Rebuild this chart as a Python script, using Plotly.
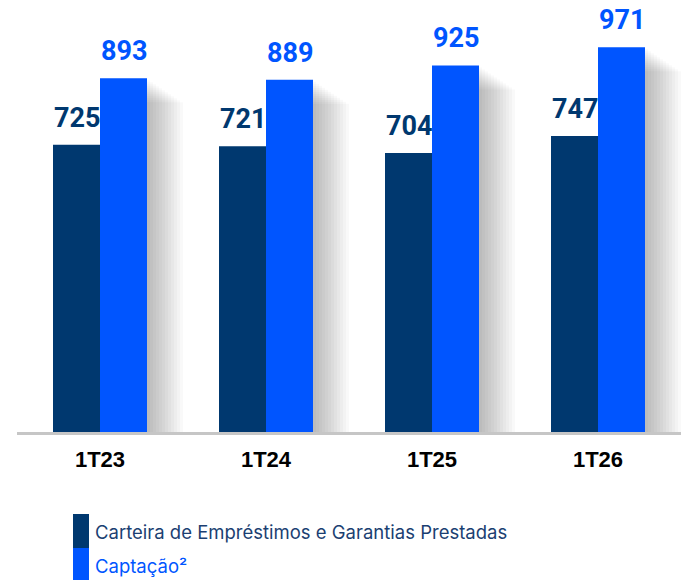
import plotly.graph_objects as go

categories = ["1T23", "1T24", "1T25", "1T26"]
carteira = [725, 721, 704, 747]
captacao = [893, 889, 925, 971]
legend_names = ["Carteira de Empréstimos e Garantias Prestadas", "Captação²"]

DARK = "#00386f"
BLUE = "#0055ff"

W, H = 684, 580
ML, MR, MT, MB = 17, 3, 10, 148
YMAX = 1065
plot_w = W - ML - MR
plot_h = H - MT - MB
cat_px = plot_w / len(categories)
ux = 1.0 / cat_px            # category units per pixel
uy = YMAX / plot_h           # y units per pixel
bar_w = 47 * ux

def px2x(px):
    return (px - ML) / plot_w

def px2y(py):
    return (H - MB - py) / plot_h

fig = go.Figure()

# soft shadow to the right of the blue bars
N = 12
for k in range(1, N + 1):
    fig.add_trace(go.Bar(
        x=categories,
        y=[v - 2.0 * k * uy for v in captacao],
        offset=0,
        width=bar_w + 3.0 * k * ux,
        marker=dict(color="rgba(0,0,0,0.025)", line=dict(width=0)),
        hoverinfo="skip", showlegend=False,
    ))

fig.add_trace(go.Bar(
    x=categories, y=carteira, name=legend_names[0],
    offset=-bar_w, width=bar_w,
    marker=dict(color=DARK, line=dict(width=0)),
    hoverinfo="skip", showlegend=False,
))
fig.add_trace(go.Bar(
    x=categories, y=captacao, name=legend_names[1],
    offset=0, width=bar_w,
    marker=dict(color=BLUE, line=dict(width=0)),
    hoverinfo="skip", showlegend=False,
))

annotations = []
for c, v in zip(categories, carteira):
    annotations.append(dict(x=c, y=v, xref="x", yref="y", text=str(v), showarrow=False,
                            xanchor="center", yanchor="bottom", xshift=-23.5, yshift=9,
                            font=dict(family="Roboto", size=27, color=DARK, weight="bold")))
for c, v in zip(categories, captacao):
    annotations.append(dict(x=c, y=v, xref="x", yref="y", text=str(v), showarrow=False,
                            xanchor="center", yanchor="bottom", xshift=23.5, yshift=9,
                            font=dict(family="Roboto", size=27, color=BLUE, weight="bold")))

# custom legend
shapes = [
    dict(type="rect", xref="paper", yref="paper", x0=px2x(73), x1=px2x(89),
         y0=px2y(514), y1=px2y(548), fillcolor=DARK, line=dict(width=0)),
    dict(type="rect", xref="paper", yref="paper", x0=px2x(73), x1=px2x(89),
         y0=px2y(548), y1=px2y(582), fillcolor=BLUE, line=dict(width=0)),
]
annotations.append(dict(x=px2x(93), y=px2y(532), xref="paper", yref="paper", text=legend_names[0],
                        showarrow=False, xanchor="left", yanchor="middle",
                        font=dict(family="Inter", size=18.5, color="#1b3f72")))
annotations.append(dict(x=px2x(93), y=px2y(566), xref="paper", yref="paper", text=legend_names[1],
                        showarrow=False, xanchor="left", yanchor="middle",
                        font=dict(family="Inter", size=18.5, color=BLUE)))

fig.update_layout(
    width=W, height=H,
    margin=dict(l=ML, r=MR, t=MT, b=MB),
    barmode="overlay",
    plot_bgcolor="white", paper_bgcolor="white",
    showlegend=False,
    hovermode=False,
    annotations=annotations,
    shapes=shapes,
    xaxis=dict(type="category", showgrid=False, zeroline=False,
               showline=True, linecolor="#c6c6c6", linewidth=3,
               ticks="", ticklabelstandoff=6, fixedrange=True,
               tickfont=dict(family="Liberation Sans", size=22, color="black", weight="bold")),
    yaxis=dict(range=[0, YMAX], visible=False, showgrid=False, zeroline=False, fixedrange=True),
)

fig.write_html("out.html",
               config={"displayModeBar": False, "staticPlot": True},
               post_script="document.body.style.margin='0';document.body.style.overflow='hidden';")
